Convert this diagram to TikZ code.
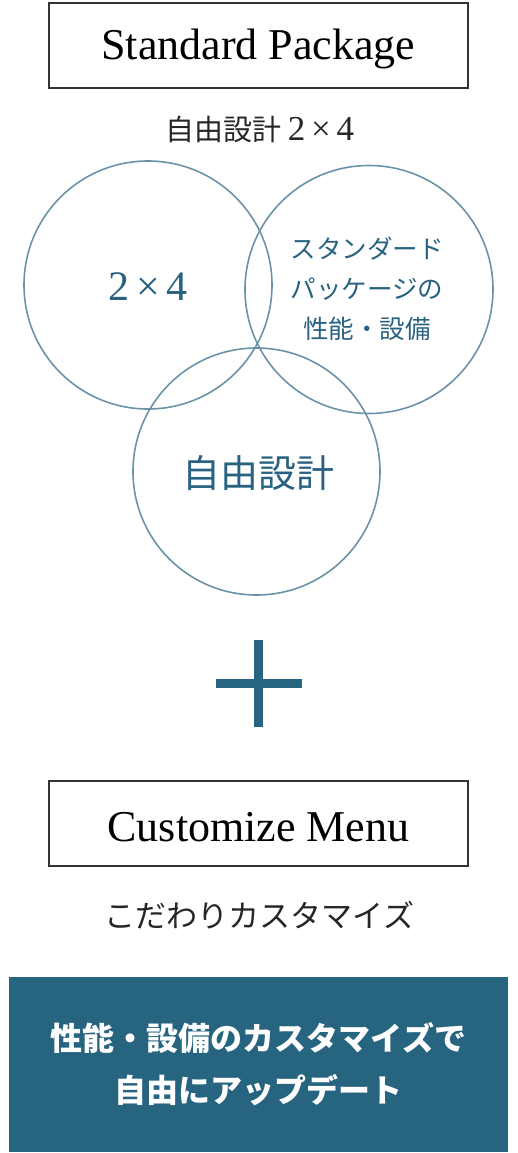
\documentclass[tikz,border=0pt]{standalone}
\usepackage{fontspec}
\setmainfont{Liberation Serif}
\newfontfamily\jpfont{Noto Sans CJK JP}
\usepackage{tikz}
\definecolor{ringline}{RGB}{107,147,168}
\definecolor{ringtext}{RGB}{40,98,128}
\definecolor{deepblue}{RGB}{38,100,128}
\tikzset{
	titlebox/.style={draw=black!80, line width=1.1pt},
	ring/.style={draw=ringline, line width=1.6pt},
}

\begin{document}
\begin{tikzpicture}[x=1pt, y=-1pt]
				\useasboundingbox (0,0) rectangle (517,1153);
				% upper block
				\draw[titlebox] (49,3) rectangle (468,88);
				\node[font=\fontsize{44}{50}\selectfont] (std) at (258.5,49) {Standard Package};
				\node[text=black!85] (stdsub) at (260,129) {\jpfont\fontsize{29}{30}\selectfont 自由設計\hspace{6pt}\rmfamily\fontsize{35}{36}\selectfont 2\,×\,4};
				\foreach \cx/\cy/\r in {148/285/124, 369/289.5/124, 256.5/471.5/123.5} {
					\draw[ring] (\cx,\cy) circle (\r pt);
				}
				\node[text=ringtext, font=\fontsize{42}{48}\selectfont] (twobyfour) at (148,287) {2\,×\,4};
				\node[text=ringtext, align=center, font=\jpfont\fontsize{25.5}{40}\selectfont] (stdperf) at (367,289) {スタンダード\\パッケージの\\性能・設備};
				\node[text=ringtext, font=\jpfont\fontsize{38}{44}\selectfont] (freedesign) at (258,473) {自由設計};
				% plus
				\coordinate (plus) at (259,683.5);
				\draw[deepblue, line width=9pt] (216,683.5) -- (302,683.5);
				\draw[deepblue, line width=9pt] (258.5,640) -- (258.5,727);
				% lower block
				\draw[titlebox] (49,781) rectangle (468,866);
				\node[font=\fontsize{44}{50}\selectfont] (custom) at (258.5,827) {Customize Menu};
				\node[text=black!85] (customsub) at (259.5,915) {\jpfont\fontsize{31}{34}\selectfont こだわりカスタマイズ};
				\node[fill=deepblue, minimum width=499pt, minimum height=175pt, inner sep=0pt] (update) at (258.5,1064.5) {};
				\node[text=white, align=center, font=\jpfont\bfseries\fontsize{32}{52}\selectfont] (updatetext) at (update.center) {性能・設備のカスタマイズで\\自由にアップデート};
			\end{tikzpicture}
\end{document}
